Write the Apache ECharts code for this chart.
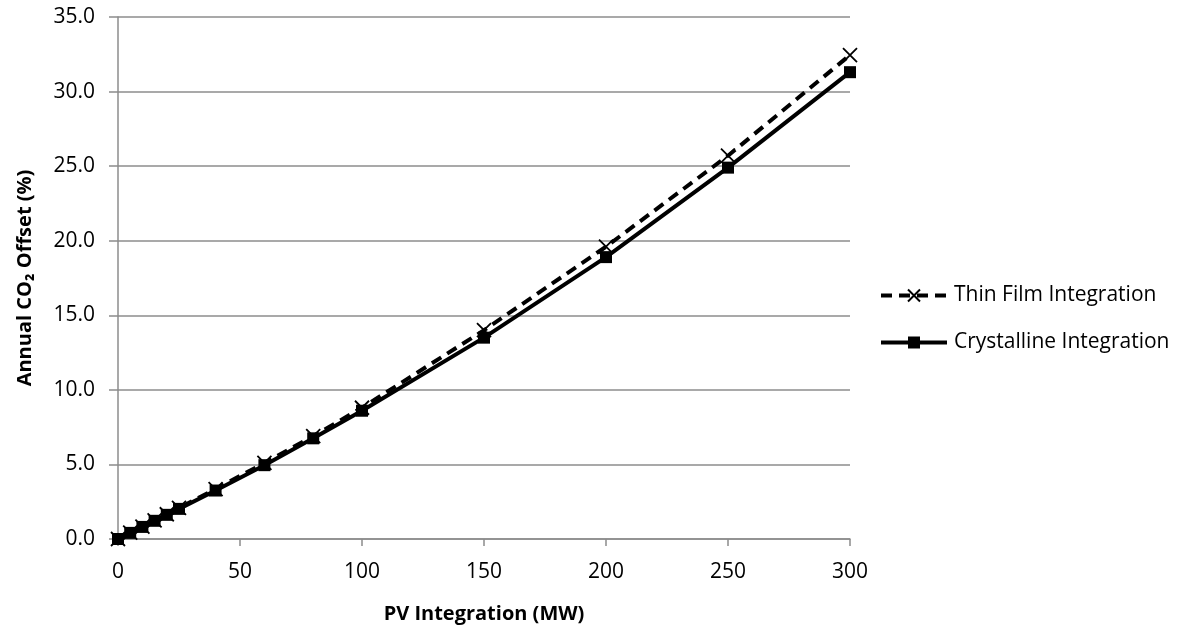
<!DOCTYPE html>
<html>
<head>
<meta charset="utf-8">
<script src="https://cdn.jsdelivr.net/npm/echarts@6/dist/echarts.min.js"></script>
<style>
  html, body { margin: 0; padding: 0; background: #fff; }
  #chart { width: 1204px; height: 629px; }
</style>
</head>
<body>
<div id="chart"></div>
<script>
// PV capacity (MW) at which each scenario was evaluated
const pvIntegration = [0, 5, 10, 15, 20, 25, 40, 60, 80, 100, 150, 200, 250, 300];
// Annual CO2 offset (%) per scenario
const thinFilm    = [0, 0.42, 0.83, 1.25, 1.66, 2.08, 3.35, 5.1, 6.9, 8.8, 14.0, 19.6, 25.7, 32.45];
const crystalline = [0, 0.41, 0.81, 1.22, 1.62, 2.02, 3.25, 4.95, 6.75, 8.6, 13.5, 18.9, 24.9, 31.3];

const seriesNames = ['Thin Film Integration', 'Crystalline Integration'];
const xTitle = 'PV Integration (MW)';
const yTitle = 'Annual CO\u2082 Offset (%)';

const pairs = (xs, ys) => xs.map((x, i) => [x, ys[i]]);

const font = '"Open Sans", Lato, sans-serif';
const gridColor = '#8c8c8c';

const chart = echarts.init(document.getElementById('chart'));
chart.setOption({
  animation: false,
  backgroundColor: '#fff',
  grid: { left: 118, right: 354, top: 17, bottom: 90, containLabel: false },
  legend: {
    orient: 'vertical',
    left: 874,
    top: 280,
    itemGap: 26,
    itemWidth: 66,
    itemHeight: 15,
    lineStyle: { width: 4 },
    textStyle: { fontFamily: font, fontSize: 21, color: '#000', padding: [0, 0, 0, 2] },
    data: seriesNames
  },
  xAxis: {
    type: 'value',
    min: 0, max: 300, interval: 50,
    name: xTitle,
    nameLocation: 'middle',
    nameGap: 65,
    nameTextStyle: { fontFamily: font, fontSize: 20, fontWeight: 'bold', color: '#000' },
    axisLine: { show: true, lineStyle: { color: gridColor, width: 1.5 } },
    axisTick: { show: true, length: 7, lineStyle: { color: gridColor, width: 1.5 } },
    axisLabel: { fontFamily: font, fontSize: 21, color: '#000', margin: 23 },
    splitLine: { show: false }
  },
  yAxis: {
    type: 'value',
    min: 0, max: 35, interval: 5,
    name: yTitle,
    nameLocation: 'middle',
    nameGap: 83,
    nameRotate: 90,
    nameTextStyle: { fontFamily: font, fontSize: 20, fontWeight: 'bold', color: '#000' },
    axisLine: { show: true, lineStyle: { color: gridColor, width: 1.5 } },
    axisTick: { show: true, length: 9, lineStyle: { color: gridColor, width: 1.5 } },
    axisLabel: { fontFamily: font, fontSize: 21, color: '#000', margin: 23,
                 formatter: v => v.toFixed(1) },
    splitLine: { show: true, lineStyle: { color: gridColor, width: 1.5 } }
  },
  series: [
    {
      name: seriesNames[0],
      type: 'line',
      data: pairs(pvIntegration, thinFilm),
      symbol: 'path://M0,0L10,10M10,0L0,10',
      symbolSize: 14,
      itemStyle: { color: 'rgba(0,0,0,0)', borderColor: '#000', borderWidth: 1.8 },
      lineStyle: { color: '#000', width: 4, type: [11, 7] },
      z: 2
    },
    {
      name: seriesNames[1],
      type: 'line',
      data: pairs(pvIntegration, crystalline),
      symbol: 'rect',
      symbolSize: 12,
      itemStyle: { color: '#000' },
      lineStyle: { color: '#000', width: 4 },
      z: 3
    }
  ]
});
</script>
</body>
</html>
